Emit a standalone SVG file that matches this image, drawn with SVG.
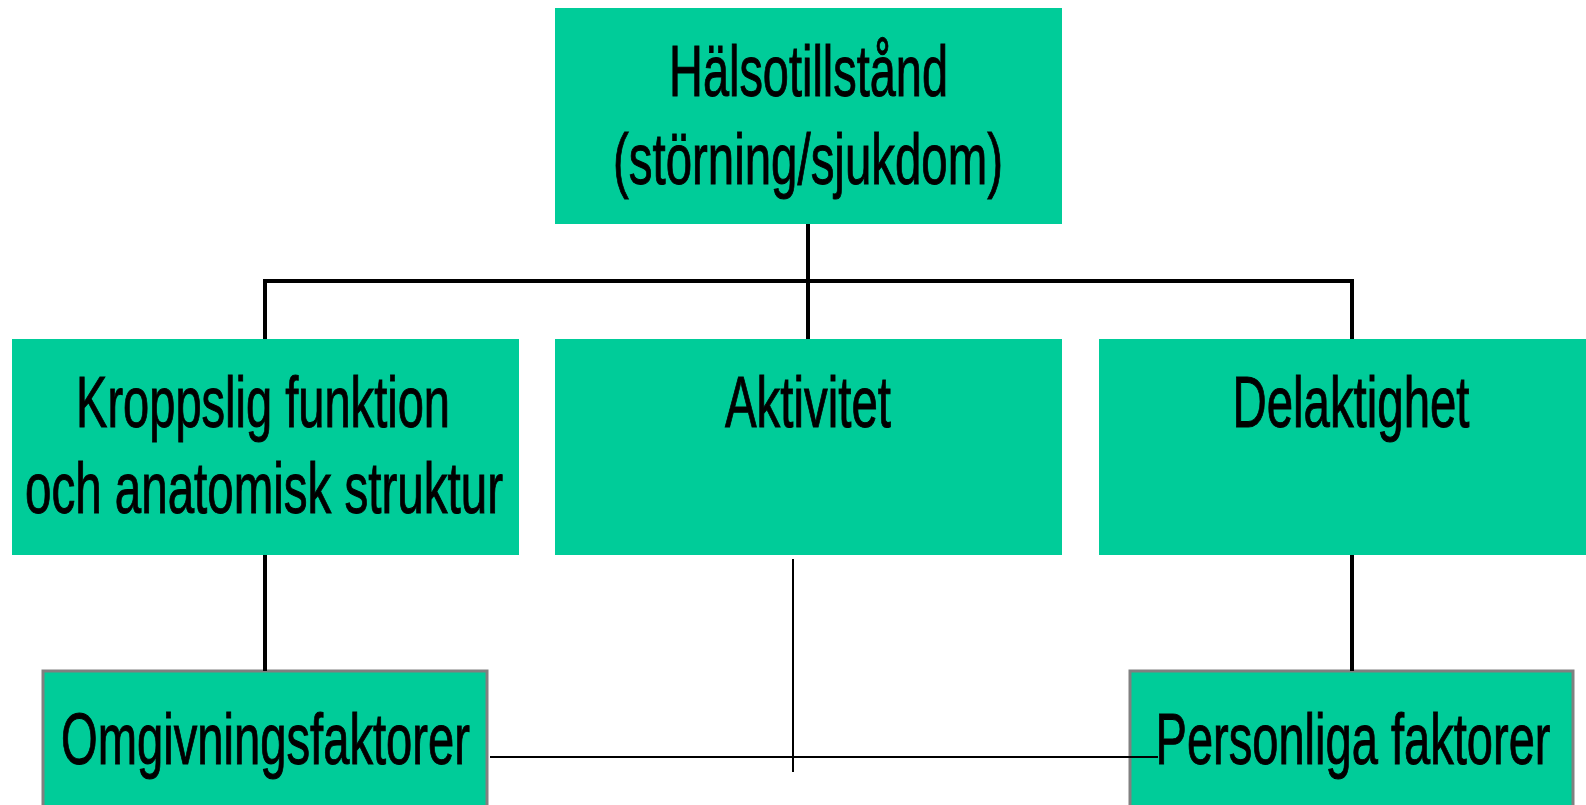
<svg xmlns="http://www.w3.org/2000/svg" width="1586" height="805" viewBox="0 0 1586 805">
<style>
.box{fill:#00CC99}
.edge{fill:none;stroke:#808080;stroke-width:3}
.t{font-family:"Liberation Sans","Arial",sans-serif;font-size:72px;fill:#000;stroke:#000;stroke-width:1;text-anchor:middle}
.c{stroke:#000;stroke-width:4;fill:none}
.thin{stroke:#000;stroke-width:2;fill:none}
</style>
<rect width="1586" height="805" fill="#fff"/>
<g id="node-halsotillstand">
<rect class="box" x="555" y="8" width="507" height="216"/>
<text class="t" x="808.5" y="96" textLength="279" lengthAdjust="spacingAndGlyphs">Hälsotillstånd</text>
<text class="t" x="808" y="184" textLength="390" lengthAdjust="spacingAndGlyphs">(störning/sjukdom)</text>
</g>
<g id="node-kroppslig">
<rect class="box" x="12" y="339" width="507" height="216"/>
<text class="t" x="263" y="427" textLength="374" lengthAdjust="spacingAndGlyphs">Kroppslig funktion</text>
<text class="t" x="264" y="513" textLength="478" lengthAdjust="spacingAndGlyphs">och anatomisk struktur</text>
</g>
<g id="node-aktivitet">
<rect class="box" x="555" y="339" width="507" height="216"/>
<text class="t" x="808" y="427" textLength="166" lengthAdjust="spacingAndGlyphs">Aktivitet</text>
</g>
<g id="node-delaktighet">
<rect class="box" x="1099" y="339" width="487" height="216"/>
<text class="t" x="1351" y="427" textLength="237" lengthAdjust="spacingAndGlyphs">Delaktighet</text>
</g>
<g id="node-omgivningsfaktorer">
<rect class="box" x="43" y="671" width="444" height="134"/>
<path class="edge" d="M43,805 V671 H487 V805"/>
<text class="t" x="265.5" y="764" textLength="409" lengthAdjust="spacingAndGlyphs">Omgivningsfaktorer</text>
</g>
<g id="node-personliga">
<rect class="box" x="1130" y="671" width="443" height="134"/>
<path class="edge" d="M1130,805 V671 H1573 V805"/>
<text class="t" x="1353" y="764" textLength="395" lengthAdjust="spacingAndGlyphs">Personliga faktorer</text>
</g>
<g id="connectors">
<line class="c" x1="808" y1="224" x2="808" y2="339"/>
<polyline class="c" points="265,339 265,281 1352,281 1352,339"/>
<line class="c" x1="265" y1="555" x2="265" y2="671"/>
<line class="c" x1="1352" y1="555" x2="1352" y2="671"/>
<line class="thin" x1="793" y1="559" x2="793" y2="772"/>
<line class="thin" x1="490" y1="757" x2="1158" y2="757"/>
</g>
</svg>
